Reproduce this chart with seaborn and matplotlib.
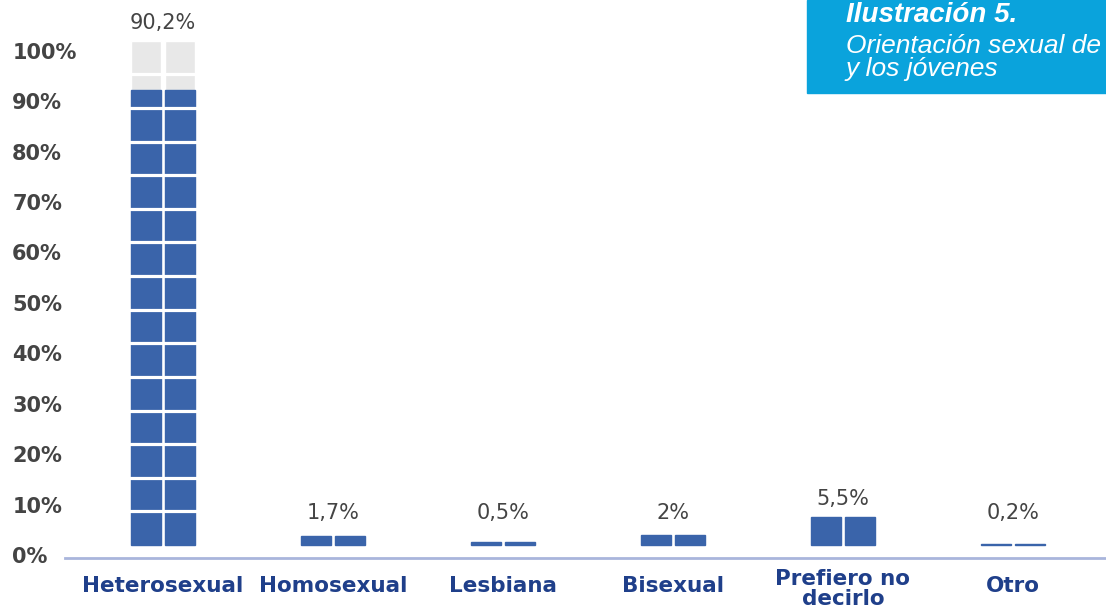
import pandas as pd
import matplotlib.pyplot as plt
import matplotlib.transforms as mtransforms
from matplotlib.patches import Rectangle
import seaborn as sns

sns.set_style('white')
plt.rcParams['font.family'] = ['DejaVu Sans']

# datos
categorias = ['Heterosexual', 'Homosexual', 'Lesbiana', 'Bisexual', 'Prefiero no\ndecirlo', 'Otro']
valores = [90.2, 1.7, 0.5, 2.0, 5.5, 0.2]
etiquetas = ['90,2%', '1,7%', '0,5%', '2%', '5,5%', '0,2%']
fondo = [100, 0, 0, 0, 0, 0]
ticks_y = [0, 10, 20, 30, 40, 50, 60, 70, 80, 90, 100]
ticks_y_txt = ['0%', '10%', '20%', '30%', '40%', '50%', '60%', '70%', '80%', '90%', '100%']

azul = '#3a64aa'
gris = '#e8e8e8'
azul_texto = '#1f3f8a'
gris_texto = '#444444'

# dos columnas por categoria
df = pd.DataFrame({
    'categoria': categorias * 2,
    'columna': ['a'] * len(categorias) + ['b'] * len(categorias),
    'valor': valores * 2,
    'fondo': fondo * 2,
})

fig = plt.figure(figsize=(11.06, 6.07), dpi=100)
ax = fig.add_axes([65 / 1106, 49 / 607, 1 - 65 / 1106, 558 / 607])

sns.barplot(data=df, x='categoria', y='fondo', hue='columna', order=categorias,
            palette={'a': gris, 'b': gris}, saturation=1, width=0.4, gap=0.12,
            legend=False, errorbar=None, ax=ax, zorder=1)
sns.barplot(data=df, x='categoria', y='valor', hue='columna', order=categorias,
            palette={'a': azul, 'b': azul}, saturation=1, width=0.4, gap=0.12,
            legend=False, errorbar=None, edgecolor=azul, linewidth=1,
            ax=ax, zorder=2)

# cortes blancos de los bloques
for k in range(1, 15):
    ax.axhline(k * 100 / 15, color='white', lw=2.3, zorder=3)

# etiquetas de valor
for i, (v, f, t) in enumerate(zip(valores, fondo, etiquetas)):
    ax.annotate(t, (i, max(v, f, 2.7)), xytext=(0, 6), textcoords='offset points',
                ha='center', va='bottom', fontsize=15, color=gris_texto, zorder=5)

ax.set_xlim(-0.576, 5.547)
ax.set_ylim(-2.58, 108.1)
ax.set_xlabel('')
ax.set_ylabel('')

ax.set_yticks(ticks_y)
ax.set_yticklabels(ticks_y_txt, fontsize=15, fontweight='bold', color=gris_texto, ha='left')
ax.tick_params(axis='y', length=0, pad=38)
bajar = mtransforms.ScaledTranslation(0, -0.1, fig.dpi_scale_trans)
for lab in ax.get_yticklabels():
    lab.set_transform(lab.get_transform() + bajar)

ax.set_xticks(range(len(categorias)))
ax.set_xticklabels(categorias, fontsize=15.5, fontweight='bold', color=azul_texto, linespacing=1.0)
ax.tick_params(axis='x', length=0, pad=13)
subir = mtransforms.ScaledTranslation(0, 0.07, fig.dpi_scale_trans)
labs = ax.get_xticklabels()
labs[4].set_transform(labs[4].get_transform() + subir)

for s in ['top', 'right', 'left']:
    ax.spines[s].set_visible(False)
ax.spines['bottom'].set_color('#a9b5dc')
ax.spines['bottom'].set_linewidth(2)

# recuadro del titulo
fig.add_artist(Rectangle((807 / 1106, 1 - 93 / 607), 299 / 1106, 93 / 607,
                         transform=fig.transFigure, color='#0aa3dc', zorder=10))
fig.text(846 / 1106, 1 - 22 / 607, 'Ilustración 5.', family='Liberation Sans',
         style='italic', fontweight='bold', fontsize=20, color='white',
         va='baseline', zorder=11)
fig.text(846 / 1106, 1 - 53 / 607, 'Orientación sexual de', family='Liberation Sans',
         style='italic', fontsize=19, color='white', va='baseline', zorder=11)
fig.text(846 / 1106, 1 - 76 / 607, 'y los jóvenes', family='Liberation Sans',
         style='italic', fontsize=19, color='white', va='baseline', zorder=11)

plt.savefig('out.png', dpi=100)
